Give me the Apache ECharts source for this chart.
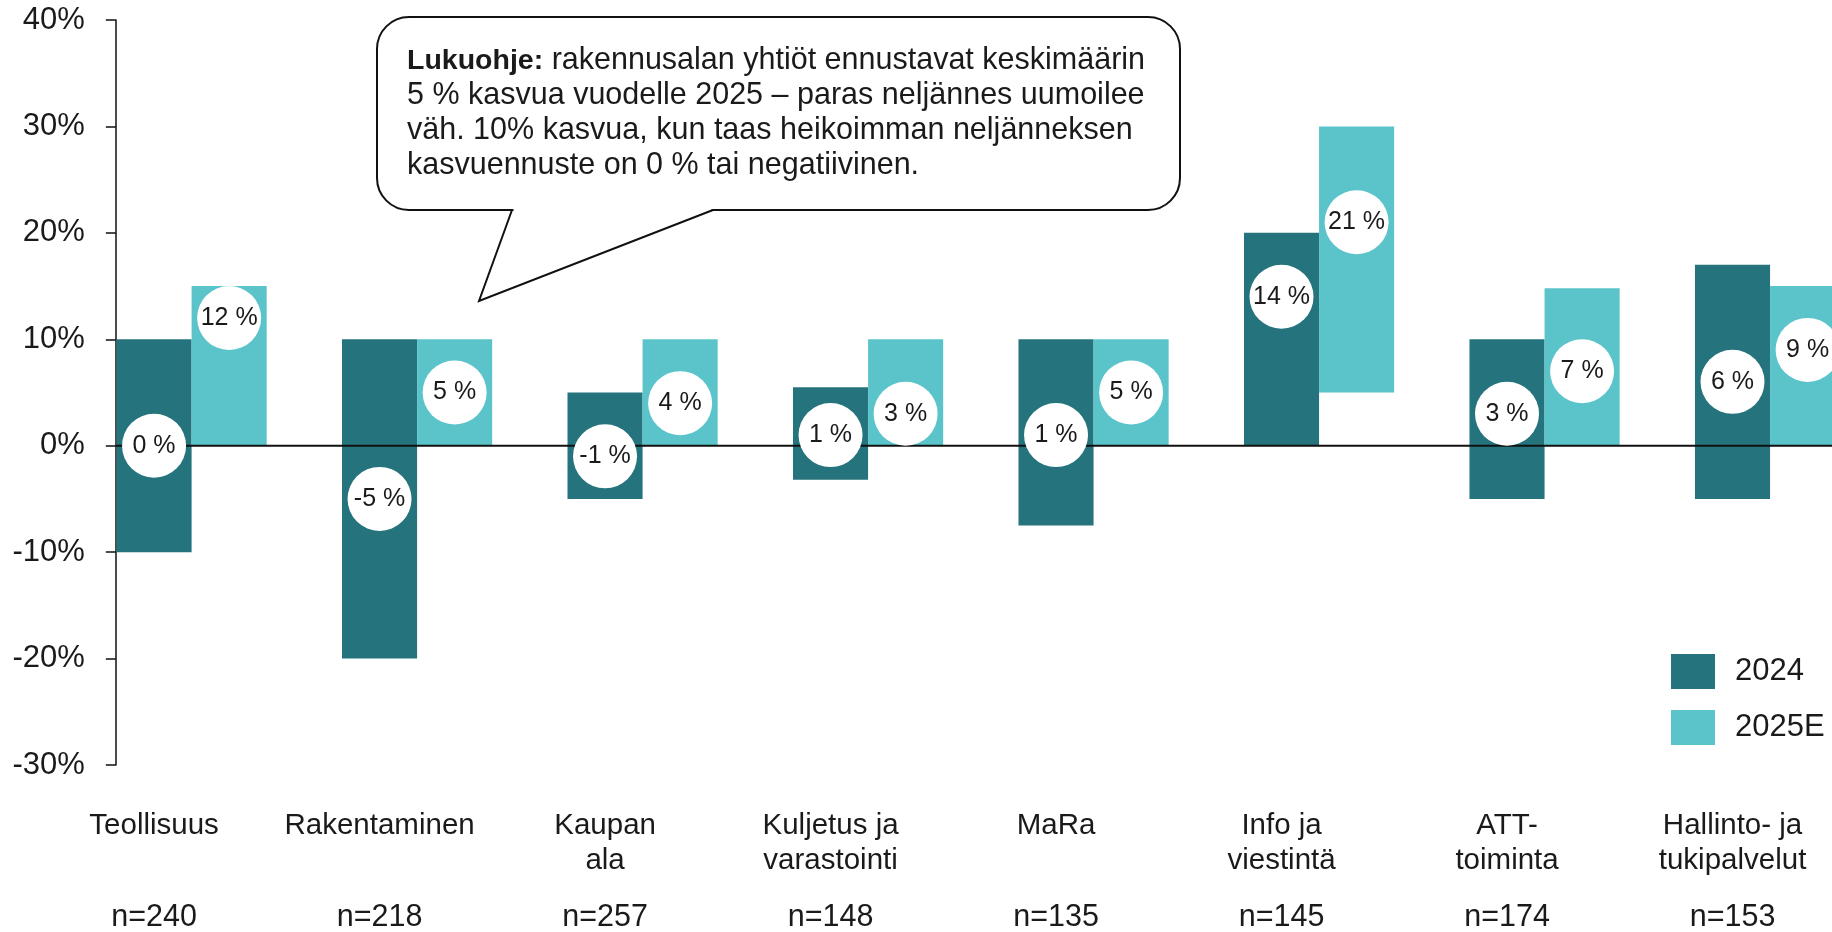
<!DOCTYPE html>
<html><head><meta charset="utf-8">
<script src="https://cdn.jsdelivr.net/npm/echarts@6/dist/echarts.min.js"></script>
<style>html,body{margin:0;padding:0;background:#fff}#c{width:1832px;height:932px}</style>
</head><body><div id="c"></div>
<script>
// ---- data ----
const categories = ['Teollisuus', 'Rakentaminen', 'Kaupan\nala', 'Kuljetus ja\nvarastointi', 'MaRa', 'Info ja\nviestintä', 'ATT-\ntoiminta', 'Hallinto- ja\ntukipalvelut'];
const sampleSizes = [240, 218, 257, 148, 135, 145, 174, 153];
const seriesNames = ['2024', '2025E'];
const low2024 = [-10, -20, -5, -3.2, -7.5, 0, -5, -5];
const high2024 = [10, 10, 5, 5.5, 10, 20, 10, 17];
const median2024 = [0, -5, -1, 1, 1, 14, 3, 6];
const low2025 = [0, 0, 0, 0, 0, 5, 0, 0];
const high2025 = [15, 10, 10, 10, 10, 30, 14.8, 15];
const median2025 = [12, 5, 4, 3, 5, 21, 7, 9];
const yTicks = {min: -30, max: 40, interval: 10};
const calloutLines = [
  '{b|Lukuohje:} rakennusalan yhtiöt ennustavat keskimäärin',
  '5 % kasvua vuodelle 2025 – paras neljännes uumoilee',
  'väh. 10% kasvua, kun taas heikoimman neljänneksen',
  'kasvuennuste on 0 % tai negatiivinen.'
];

// ---- styling ----
const FONT = '"Liberation Sans", Arial, sans-serif';
const COLORS = ['#25737D', '#5BC4CA'];
const BAR_RATIO = 0.333;
const Y_AXIS_SHIFT = 37;
const TEXT = '#1a1a1a';

const chart = echarts.init(document.getElementById('c'), null, {renderer: 'canvas'});

function rangeData(lows, highs) { return categories.map((c, i) => [i, lows[i], highs[i]]); }
function medianData(meds) { return categories.map((c, i) => [i, meds[i]]); }

function barRenderer(side, color) {
  return function (params, api) {
    const i = api.value(0);
    const band = api.size([1, 0])[0];
    const bw = band * BAR_RATIO;
    const cx = api.coord([i, 0])[0];
    const x0 = side === 0 ? cx - bw : cx;
    const yTop = api.coord([i, api.value(2)])[1];
    const yBot = api.coord([i, api.value(1)])[1];
    return {type: 'rect', shape: {x: x0, y: yTop, width: bw, height: yBot - yTop}, style: {fill: color}};
  };
}
function medianRenderer(side) {
  return function (params, api) {
    const i = api.value(0), v = api.value(1);
    const band = api.size([1, 0])[0];
    const bw = band * BAR_RATIO;
    const cx = api.coord([i, 0])[0] + (side === 0 ? -bw / 2 : bw / 2);
    const cy = api.coord([i, v])[1];
    return {type: 'group', children: [
      {type: 'circle', shape: {cx: cx, cy: cy, r: 32}, style: {fill: '#fff'}},
      {type: 'text', x: cx, y: cy, style: {text: v + ' %', fontSize: 25, fontFamily: FONT, fill: TEXT, align: 'center', verticalAlign: 'middle'}}
    ]};
  };
}

const option = {
  backgroundColor: '#fff',
  animation: false,
  grid: {left: 78.85, right: -50.8, top: 20, bottom: 167, outerBoundsMode: 'none', containLabel: false},
  legend: {
    orient: 'vertical', left: 1671, top: 654, padding: 0,
    itemWidth: 44, itemHeight: 35, itemGap: 21,
    data: seriesNames.map(n => ({name: n, icon: 'rect'})),
    textStyle: {fontSize: 31, fontFamily: FONT, color: TEXT, padding: [0, 0, 0, 15]},
    selectedMode: false
  },
  xAxis: {
    type: 'category', data: categories,
    axisLine: {show: false}, axisTick: {show: false},
    axisLabel: {
      interval: 0, margin: 43, padding: [0, 75, 0, 0],
      formatter: function (value, idx) {
        const parts = value.split('\n');
        return '{a|' + parts[0] + '}\n{a|' + (parts[1] || ' ') + '}\n{n|n=' + sampleSizes[idx] + '}';
      },
      rich: {
        a: {fontSize: 29.5, lineHeight: 35, fontFamily: FONT, color: TEXT},
        n: {fontSize: 30.5, lineHeight: 79, fontFamily: FONT, color: TEXT}
      }
    }
  },
  yAxis: {
    type: 'value', min: yTicks.min, max: yTicks.max, interval: yTicks.interval,
    offset: -Y_AXIS_SHIFT,
    axisLine: {show: true, onZero: false, lineStyle: {color: '#111', width: 1.5}},
    axisTick: {show: true, length: 10, lineStyle: {color: '#111', width: 1.5}},
    splitLine: {show: false},
    axisLabel: {formatter: '{value}%', fontSize: 31, fontFamily: FONT, color: TEXT, margin: 31}
  },
  series: [
    {type: 'custom', name: seriesNames[0], z: 2, itemStyle: {color: COLORS[0]}, encode: {x: 0, y: [1, 2]},
     data: rangeData(low2024, high2024), renderItem: barRenderer(0, COLORS[0])},
    {type: 'custom', name: seriesNames[1], z: 2, itemStyle: {color: COLORS[1]}, encode: {x: 0, y: [1, 2]},
     data: rangeData(low2025, high2025), renderItem: barRenderer(1, COLORS[1])},
    {type: 'custom', name: 'zero', z: 3, silent: true, encode: {x: 0, y: 1}, data: [[0, 0]],
     renderItem: function (params, api) {
       const cs = params.coordSys;
       const y = api.coord([0, 0])[1];
       return {type: 'line', shape: {x1: cs.x + Y_AXIS_SHIFT, y1: y, x2: cs.x + cs.width, y2: y}, style: {stroke: '#111', lineWidth: 2}};
     }},
    {type: 'custom', name: 'med2024', z: 4, silent: true, encode: {x: 0, y: 1},
     data: medianData(median2024), renderItem: medianRenderer(0)},
    {type: 'custom', name: 'med2025', z: 4, silent: true, encode: {x: 0, y: 1},
     data: medianData(median2025), renderItem: medianRenderer(1)}
  ],
  graphic: [
    {type: 'rect', z: 10, shape: {x: 377, y: 17, width: 803, height: 193, r: 32}, style: {fill: '#fff', stroke: '#111', lineWidth: 2}},
    {type: 'rect', z: 11, shape: {x: 513.5, y: 206, width: 198, height: 7}, style: {fill: '#fff'}},
    {type: 'polyline', z: 12, shape: {points: [[512, 210], [479, 301], [713, 210]]}, style: {stroke: '#111', lineWidth: 2, fill: null}},
    {type: 'text', z: 12, x: 407, y: 43.5, style: {
      text: calloutLines.join('\n'), fontSize: 30.5, lineHeight: 35, fontFamily: FONT, fill: TEXT,
      rich: {b: {fontSize: 28.5, lineHeight: 35, fontFamily: FONT, fontWeight: 'bold', fill: TEXT}}
    }}
  ]
};
chart.setOption(option);
</script>
</body></html>
